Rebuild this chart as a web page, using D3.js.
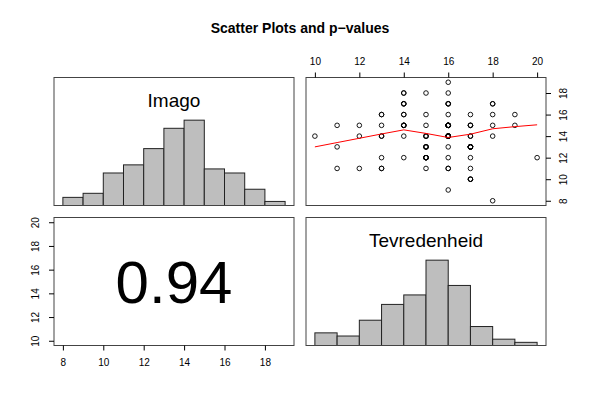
<!DOCTYPE html>
<html>
<head>
<meta charset="utf-8">
<script src="https://cdn.jsdelivr.net/npm/d3@7"></script>
<style>
  html, body { margin: 0; padding: 0; background: #fff; }
  svg { display: block; font-family: "Liberation Sans", Arial, Helvetica, sans-serif; }
</style>
</head>
<body>
<div id="chart"></div>
<script>
// ---------- data ----------
const chartTitle = "Scatter Plots and p\u2212values";
const varNames = ["Imago", "Tevredenheid"];
const pValueText = "0.94";

// histogram of Imago
const imagoBreaks = [8, 9, 10, 11, 12, 13, 14, 15, 16, 17, 18, 19];
const imagoCounts = [2, 3, 8, 10, 14, 19, 21, 9, 8, 4, 1];
// histogram of Tevredenheid
const tevBreaks = [10, 11, 12, 13, 14, 15, 16, 17, 18, 19, 20];
const tevCounts = [4, 3, 8, 13, 16, 27, 19, 6, 2, 1];

// scatter (x = Tevredenheid, y = Imago, n = number of coincident points)
const scatterX = [10, 11, 11, 11, 12, 12, 12, 13, 13, 13, 13, 13, 14, 14, 14, 14, 14, 14,
  15, 15, 15, 15, 15, 15, 15, 16, 16, 16, 16, 16, 16, 16, 16, 16, 16,
  17, 17, 17, 17, 17, 17, 17, 18, 18, 18, 18, 18, 19, 19, 20];
const scatterY = [14, 15, 13, 11, 15, 14, 11, 16, 15, 14, 12, 11, 18, 17, 16, 15, 14, 12,
  18, 16, 15, 14, 13, 12, 11, 19, 18, 17, 16, 15, 14, 13, 12, 11, 9,
  16, 15, 14, 13, 12, 11, 10, 17, 16, 15, 14, 8, 16, 15, 12];
const scatterN = [1, 1, 1, 1, 1, 1, 1, 2, 1, 2, 1, 2, 2, 3, 2, 4, 1, 1,
  1, 1, 1, 3, 4, 5, 1, 1, 1, 3, 1, 8, 8, 1, 1, 2, 1,
  1, 3, 2, 8, 1, 1, 3, 2, 1, 1, 1, 1, 1, 1, 1];

// smoother line
const smoothX = [10, 11, 12, 13, 14, 15, 16, 17, 18, 19, 20];
const smoothY = [13.0, 13.4, 13.8, 14.2, 14.58, 14.25, 13.87, 14.18, 14.68, 14.88, 15.05];

// axis ticks
const tevTicks = [10, 12, 14, 16, 18, 20];
const imagoTicks = [8, 10, 12, 14, 16, 18];

// ---------- layout ----------
const W = 600, H = 400;
const cols = [[54, 294], [306, 546]];
const rows = [[77.5, 205.5], [217.5, 345.5]];
const tickLen = 5;
const boxColor = "#444";

const svg = d3.select("#chart").append("svg")
  .attr("width", W).attr("height", H);

svg.append("rect").attr("width", W).attr("height", H).attr("fill", "#fff");

// scales
const imagoExt = d3.extent(imagoBreaks), tevExt = d3.extent(tevBreaks);
const pad = (e) => { const d = (e[1] - e[0]) * 0.04; return [e[0] - d, e[1] + d]; };
const xImagoL = d3.scaleLinear().domain(pad(imagoExt)).range(cols[0]);
const xTevR = d3.scaleLinear().domain(pad(tevExt)).range(cols[1]);
const yImagoT = d3.scaleLinear().domain(pad(imagoExt)).range([rows[0][1], rows[0][0]]);
const yTevB = d3.scaleLinear().domain(pad(tevExt)).range([rows[1][1], rows[1][0]]);
const yHistT = d3.scaleLinear().domain([0, 1.5]).range([rows[0][1], rows[0][0]]);
const yHistB = d3.scaleLinear().domain([0, 1.5]).range([rows[1][1], rows[1][0]]);

// title
svg.append("text")
  .attr("x", 300).attr("y", 33)
  .attr("text-anchor", "middle")
  .attr("font-weight", "bold")
  .attr("font-size", 14)
  .attr("fill", "#000")
  .text(chartTitle);

// histograms
function drawHist(breaks, counts, xs, ys) {
  const mx = d3.max(counts);
  const data = counts.map((c, i) => ({ x0: breaks[i], x1: breaks[i + 1], v: c / mx }));
  svg.append("g").selectAll("rect").data(data).join("rect")
    .attr("x", d => xs(d.x0))
    .attr("width", d => xs(d.x1) - xs(d.x0))
    .attr("y", d => ys(d.v))
    .attr("height", d => ys(0) - ys(d.v))
    .attr("fill", "#bebebe")
    .attr("stroke", "#222")
    .attr("stroke-width", 1);
}
drawHist(imagoBreaks, imagoCounts, xImagoL, yHistT);
drawHist(tevBreaks, tevCounts, xTevR, yHistB);

// diagonal labels
svg.append("text")
  .attr("x", (cols[0][0] + cols[0][1]) / 2).attr("y", rows[0][0] + 29)
  .attr("text-anchor", "middle").attr("font-size", 19).attr("fill", "#000")
  .text(varNames[0]);
svg.append("text")
  .attr("x", (cols[1][0] + cols[1][1]) / 2).attr("y", rows[1][0] + 29)
  .attr("text-anchor", "middle").attr("font-size", 19).attr("fill", "#000")
  .text(varNames[1]);

// p-value
svg.append("text")
  .attr("x", (cols[0][0] + cols[0][1]) / 2).attr("y", 303)
  .attr("text-anchor", "middle").attr("font-size", 60).attr("fill", "#000")
  .text(pValueText);

// scatter
const pts = [];
scatterX.forEach((x, i) => { for (let k = 0; k < scatterN[i]; k++) pts.push([x, scatterY[i]]); });
svg.append("g").selectAll("circle").data(pts).join("circle")
  .attr("cx", d => xTevR(d[0]))
  .attr("cy", d => yImagoT(d[1]))
  .attr("r", 2.3)
  .attr("fill", "none")
  .attr("stroke", "#000")
  .attr("stroke-width", 0.9);

const line = d3.line().x(d => xTevR(d[0])).y(d => yImagoT(d[1]));
svg.append("path")
  .datum(smoothX.map((x, i) => [x, smoothY[i]]))
  .attr("d", line)
  .attr("fill", "none")
  .attr("stroke", "#ff0000")
  .attr("stroke-width", 1);

// panel boxes
rows.forEach(r => cols.forEach(c => {
  svg.append("rect")
    .attr("x", c[0]).attr("y", r[0])
    .attr("width", c[1] - c[0]).attr("height", r[1] - r[0])
    .attr("fill", "none").attr("stroke", boxColor).attr("stroke-width", 1);
}));

// axes
function styleAxis(g) {
  g.select(".domain").remove();
  g.selectAll(".tick line").attr("stroke", "#000");
  g.selectAll(".tick text").attr("fill", "#000").attr("font-size", 10)
    .attr("font-family", "Liberation Sans, Arial, sans-serif");
}
// top axis (Tevredenheid) on top-right panel
svg.append("g").attr("transform", `translate(0,${rows[0][0]})`)
  .call(d3.axisTop(xTevR).tickValues(tevTicks).tickSize(tickLen).tickPadding(8).tickFormat(d3.format("d")))
  .call(styleAxis);
// bottom axis (Imago) on bottom-left panel
svg.append("g").attr("transform", `translate(0,${rows[1][1]})`)
  .call(d3.axisBottom(xImagoL).tickValues(imagoTicks).tickSize(tickLen).tickPadding(8).tickFormat(d3.format("d")))
  .call(styleAxis);
// right axis (Imago) on top-right panel, rotated labels
const gR = svg.append("g").attr("transform", `translate(${cols[1][1]},0)`)
  .call(d3.axisRight(yImagoT).tickValues(imagoTicks).tickSize(tickLen).tickFormat(d3.format("d")))
  .call(styleAxis);
gR.selectAll(".tick text")
  .attr("x", null).attr("dy", null)
  .attr("text-anchor", "middle").attr("dominant-baseline", "central")
  .attr("transform", "translate(17.5,0) rotate(-90)");
// left axis (Tevredenheid) on bottom-left panel
const gL = svg.append("g").attr("transform", `translate(${cols[0][0]},0)`)
  .call(d3.axisLeft(yTevB).tickValues(tevTicks).tickSize(tickLen).tickFormat(d3.format("d")))
  .call(styleAxis);
gL.selectAll(".tick text")
  .attr("x", null).attr("dy", null)
  .attr("text-anchor", "middle").attr("dominant-baseline", "central")
  .attr("transform", "translate(-18.5,0) rotate(-90)");
</script>
</body>
</html>
